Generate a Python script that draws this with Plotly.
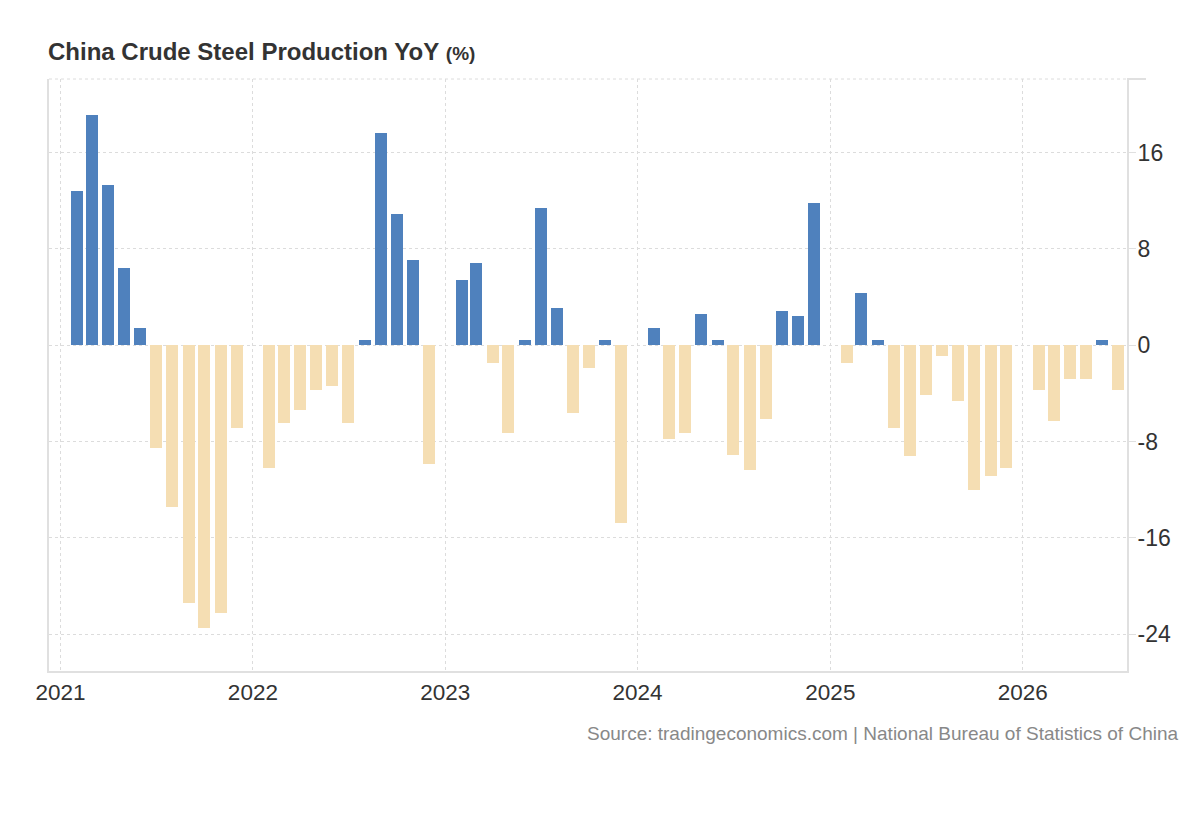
import plotly.graph_objects as go

# ---- data ----
months = [
    "2021-02", "2021-03", "2021-04", "2021-05", "2021-06", "2021-07", "2021-08", "2021-09", "2021-10", "2021-11", "2021-12",
    "2022-02", "2022-03", "2022-04", "2022-05", "2022-06", "2022-07", "2022-08", "2022-09", "2022-10", "2022-11", "2022-12",
    "2023-02", "2023-03", "2023-04", "2023-05", "2023-06", "2023-07", "2023-08", "2023-09", "2023-10", "2023-11", "2023-12",
    "2024-02", "2024-03", "2024-04", "2024-05", "2024-06", "2024-07", "2024-08", "2024-09", "2024-10", "2024-11", "2024-12",
    "2025-02", "2025-03", "2025-04", "2025-05", "2025-06", "2025-07", "2025-08", "2025-09", "2025-10", "2025-11", "2025-12",
    "2026-02", "2026-03", "2026-04", "2026-05", "2026-06", "2026-07",
]
yoy = [
    12.8, 19.1, 13.3, 6.4, 1.4, -8.5, -13.4, -21.4, -23.5, -22.2, -6.9,
    -10.2, -6.5, -5.4, -3.7, -3.4, -6.5, 0.4, 17.6, 10.9, 7.1, -9.9,
    5.4, 6.8, -1.5, -7.3, 0.4, 11.4, 3.1, -5.6, -1.9, 0.4, -14.8,
    1.4, -7.8, -7.3, 2.6, 0.4, -9.1, -10.4, -6.1, 2.8, 2.4, 11.8,
    -1.5, 4.3, 0.4, -6.9, -9.2, -4.1, -0.9, -4.6, -12.0, -10.9, -10.2,
    -3.7, -6.3, -2.8, -2.8, 0.4, -3.7,
]
y_ticks = [-24, -16, -8, 0, 8, 16]
y_tick_labels = ["-24", "-16", "-8", "0", "8", "16"]

BLUE = "#4f81bd"
WHEAT = "#f5deb3"
colors = [BLUE if v >= 0 else WHEAT for v in yoy]

DAY_MS = 86400000

fig = go.Figure()
fig.add_trace(go.Bar(
    x=months, y=yoy,
    marker=dict(color=colors, line=dict(width=0)),
    width=22.8 * DAY_MS,
    hoverinfo="x+y",
))

GRID = "#dcdcdc"
AXIS = "#e0e0e0"

# page body adds an 8px margin, so figure coords = reference coords - 8
W, H = 1184, 804
PL, PR, PT, PB = 41, 1119, 71, 662.7

fig.update_layout(
    width=W, height=H,
    margin=dict(l=PL, r=W - PR, t=PT, b=H - PB),
    paper_bgcolor="white", plot_bgcolor="white",
    showlegend=False,
    font=dict(family="Liberation Sans, Arial, sans-serif", color="#333333"),
    title=dict(
        text="<b>China Crude Steel Production YoY</b> <b><span style='font-size:19px'>(%)</span></b>",
        font=dict(size=24, color="#333333"),
        x=40 / W, xanchor="left", xref="container",
        y=1 - 44 / H, yanchor="middle", yref="container",
    ),
    xaxis=dict(
        type="date",
        range=["2020-12-10", "2026-07-18"],
        dtick="M12", tick0="2021-01-01", tickformat="%Y",
        showgrid=True, gridcolor=GRID, griddash="dot", gridwidth=1,
        showline=True, linecolor=AXIS, linewidth=2,
        ticks="",
        tickfont=dict(size=22.5, color="#333333"),
        zeroline=False,
    ),
    yaxis=dict(
        side="right",
        range=[-27.05, 22.1],
        tickvals=y_ticks, ticktext=y_tick_labels,
        showgrid=True, gridcolor=GRID, griddash="dot", gridwidth=1,
        zeroline=False,
        showline=True, linecolor=AXIS, linewidth=2, mirror=True,
        ticks="outside", ticklen=7, tickcolor=AXIS,
        ticklabelstandoff=-3,
        tickfont=dict(size=23, color="#333333"),
    ),
    bargap=0,
)

# dotted top border of the plot area, plus the small tick at its right end
fig.add_shape(type="line", xref="paper", yref="paper", x0=0, x1=1, y0=1, y1=1,
              line=dict(color=GRID, width=1, dash="dot"))
fig.add_shape(type="line", xref="paper", yref="paper", x0=1, x1=1 + 19 / (PR - PL), y0=1, y1=1,
              line=dict(color=AXIS, width=2))

fig.add_annotation(
    text="Source: tradingeconomics.com | National Bureau of Statistics of China",
    xref="paper", yref="paper",
    x=(1172 - PL) / (PR - PL), y=-(725 - PB) / (PB - PT),
    xanchor="right", yanchor="middle", showarrow=False,
    font=dict(size=19, color="#888888"),
)

fig.write_html("out.html")
